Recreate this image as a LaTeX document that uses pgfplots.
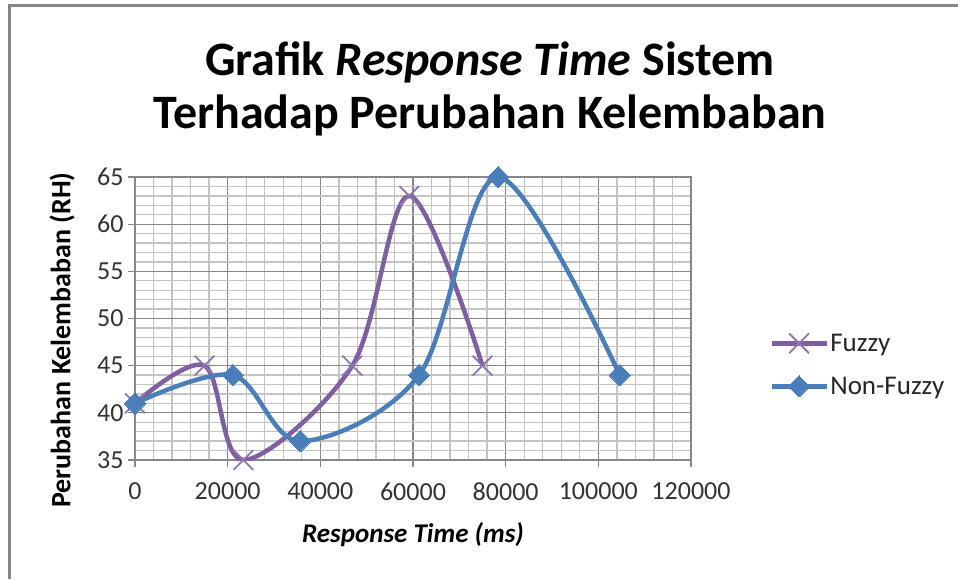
\documentclass[border=0pt]{standalone}
\usepackage{pgfplots}
\pgfplotsset{compat=1.18}
\usepackage{fontspec}
\setmainfont{Carlito}
\definecolor{fz}{HTML}{7F5FA1}
\definecolor{fzm}{HTML}{8E74B0}
\definecolor{nf}{HTML}{4A7EBB}
\definecolor{majg}{HTML}{878787}
\definecolor{ming}{HTML}{C4C4C4}
\begin{document}
\begin{tikzpicture}[x=1pt,y=1pt]
\path[use as bounding box] (0,0) rectangle (958,579);
\draw[line width=2.5pt, color=majg] (9.5,0) -- (9.5,573.5) -- (958,573.5);
\node[font=\fontsize{48}{56}\selectfont\bfseries, anchor=base] at (490,503) {Grafik \textit{Response Time} Sistem};
\node[font=\fontsize{48}{56}\selectfont\bfseries, anchor=base] at (490,450) {Terhadap Perubahan Kelembaban};
\begin{axis}[
  at={(135pt,119pt)}, anchor=south west, scale only axis,
  width=556pt, height=283pt,
  xmin=0, xmax=120000, ymin=35, ymax=65,
  xtick={0,20000,40000,60000,80000,100000,120000},
  xticklabels={0,20000,40000,60000,80000,100000,120000},
  ytick={35,40,45,50,55,60,65},
  yticklabels={35,40,45,50,55,60,65},
  minor x tick num=4, minor y tick num=4,
  grid=both,
  major grid style={majg, line width=1.3pt},
  minor grid style={ming, line width=1.3pt},
  axis line style={majg, line width=1.3pt},
  tick align=outside, major tick length=7pt, minor tick length=0pt,
  tick style={majg, line width=1.3pt},
  xtick pos=bottom, ytick pos=left,
  ticklabel style={font=\fontsize{26}{30}\selectfont, text=black!80},
  xticklabel style={yshift=-12pt},
  yticklabel style={xshift=-1pt},
  scaled x ticks=false,
  legend style={at={(1.136,0.336)}, anchor=west, draw=none, fill=none,
    font=\fontsize{27}{31}\selectfont, row sep=22pt,
    nodes={inner sep=1pt, text=black!85}},
  legend cell align=left,
  legend image code/.code={\draw[mark repeat=2,mark phase=2,#1] plot coordinates {(0pt,0pt) (27pt,0pt) (55pt,0pt)};},
]
\addplot[fz, line width=4.5pt, smooth, tension=0.55, mark=x, mark size=14pt,
  mark options={fzm, line width=1.8pt}] coordinates {
  (0,41) (15000,45) (23400,35) (46900,45) (59200,63) (75000,45)};
\addlegendentry{Fuzzy}
\addplot[nf, line width=4.5pt, smooth, tension=0.55, mark=square*, mark size=7.5pt,
  mark options={nf, rotate=45, line width=0pt}] coordinates {
  (0,41) (21100,44) (35700,37) (61300,44) (78400,65) (104600,44)};
\addlegendentry{Non-Fuzzy}
\end{axis}
\node[font=\fontsize{27}{31}\selectfont\bfseries\itshape] at (413,44) {Response Time (ms)};
\node[font=\fontsize{28}{32}\selectfont\bfseries, rotate=90] at (62,239) {Perubahan Kelembaban (RH)};
\end{tikzpicture}
\end{document}
